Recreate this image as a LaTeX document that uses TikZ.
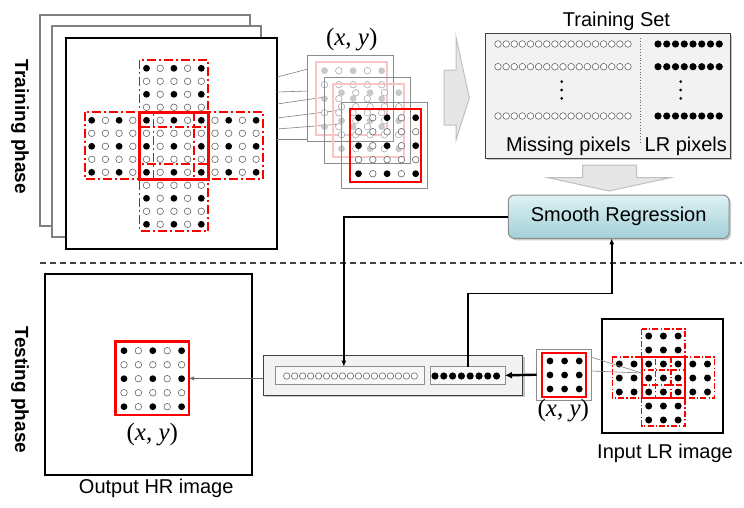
\documentclass[tikz,border=0pt]{standalone}
\usepackage{fontspec}
\setmainfont{Liberation Sans}
\newfontfamily\coordfont{Liberation Serif}
\usepackage{tikz}
\usetikzlibrary{arrows.meta,positioning,calc,shadows}
\definecolor{framegray}{HTML}{808080}
\definecolor{arrowfill}{HTML}{E6E6E6}
\definecolor{arrowline}{HTML}{BFBFBF}
\definecolor{setfill}{HTML}{F2F2F2}
\definecolor{slotfill}{HTML}{F8F8F8}
\definecolor{regtop}{HTML}{DDF1F4}
\definecolor{regbottom}{HTML}{A2D0D7}
\definecolor{fadedred}{HTML}{F8C6C6}
\definecolor{fadeddot}{HTML}{C9C9C9}
\tikzset{
  imageframe/.style={draw=black,line width=1.8pt,fill=white,inner sep=0pt,outer sep=0pt},
  backframe/.style={draw=framegray,line width=1.5pt,fill=white},
  patchframe/.style={draw=black!45,line width=0.7pt},
  redblock/.style={draw=red,line width=2.6pt,inner sep=0pt,outer sep=0pt},
  redsq/.style={draw=red,line width=2.4pt},
  fadedsq/.style={draw=fadedred,line width=2.2pt},
  redcross/.style={draw=red,line width=1.7pt,dash pattern=on 9pt off 3pt on 2pt off 3pt},
  smallcross/.style={draw=red,line width=1.3pt,dash pattern=on 6pt off 2.2pt on 1.3pt off 2.2pt},
  fullpix/.style={fill=black},
  emptypix/.style={draw=black!60,fill=white,line width=0.6pt},
  fadedfull/.style={fill=fadeddot},
  fadedempty/.style={draw=black!35,fill=white,line width=0.55pt},
  vecbox/.style={draw=black!75,line width=0.9pt,fill=setfill,inner sep=0pt,outer sep=0pt,
    drop shadow={shadow xshift=2pt,shadow yshift=-2pt,opacity=0.45}},
  slotbox/.style={draw=black!45,line width=0.7pt,fill=slotfill,inner sep=0pt,outer sep=0pt},
  regbox/.style={draw=black!45,line width=1pt,rounded corners=6pt,top color=regtop,bottom color=regbottom,
    inner sep=0pt,outer sep=0pt,drop shadow={shadow xshift=2pt,shadow yshift=-2pt,opacity=0.4}},
  blockarrow/.style={draw=arrowline,fill=arrowfill,line width=1pt},
  flowline/.style={-{Latex[length=6pt,width=5pt]},line width=1.6pt},
  thinarrow/.style={-{Latex[length=5pt,width=4pt]},draw=black!60,line width=0.6pt},
  thickarrow/.style={-{Latex[length=7pt,width=7pt]},line width=2.4pt},
  zoomline/.style={draw=black!50,line width=0.6pt},
  phaseline/.style={draw=black!75,line width=1.2pt,dash pattern=on 6pt off 4pt},
  labeltext/.style={font=\fontsize{20}{24}\selectfont,inner sep=0pt},
  phasetext/.style={font=\fontsize{19}{22}\selectfont\bfseries,inner sep=0pt},
  coordlabel/.style={font=\coordfont\fontsize{25}{28}\selectfont,inner sep=0pt}
}

\begin{document}
\begin{tikzpicture}[x=1pt,y=-1pt]
  \useasboundingbox (0,0) rectangle (744,507);

  % training images
  \draw[backframe] (40,15) rectangle (250,226);
  \draw[backframe] (52,26) rectangle (261,237);
  \draw[imageframe] (66,38) rectangle (277,249);
  \foreach \ya/\xb/\yb in {77/308/69,92/308/91,104/325/97,118/342/110,129/342/124,139/308/139}
    \draw[zoomline] (277,\ya) -- (\xb,\yb);
  \foreach \i in {0,...,12}{
    \foreach \j in {0,...,12}{
      \pgfmathtruncatemacro\incross{(\i>3)*(\i<9)+(\j>3)*(\j<9)}
      \pgfmathtruncatemacro\isfull{(mod(\i,2)==0)*(mod(\j,2)==0)}
      \ifnum\incross>0
        \ifnum\isfull=1
          \fill[fullpix] ({91.7+13.7*\i},{68.3+13*\j}) circle (3.4pt);
        \else
          \draw[emptypix] ({91.7+13.7*\i},{68.3+13*\j}) circle (3.3pt);
        \fi
      \fi
    }
  }
  \foreach \a/\b in {4/0,4/8,0/4,8/4}
    \draw[redcross] ({91.7+13.7*\a-7},{68.3+13*\b-8}) rectangle ++(68.8,67);
  \draw[redblock] (139.5,112.3) rectangle ++(68.8,67);

  % stacked patches
  \foreach \dx/\dy/\sqstyle/\fullstyle/\emptystyle in
    {0/0/fadedsq/fadedfull/fadedempty,17/22/fadedsq/fadedfull/fadedempty,34/47/redsq/fullpix/emptypix}{
    \draw[patchframe] ({307.7+\dx},{55+\dy}) rectangle ++(86,86);
    \draw[\sqstyle] ({315.7+\dx},{62+\dy}) rectangle ++(71.5,73);
    \foreach \i in {0,...,4}{
      \foreach \j in {0,...,4}{
        \pgfmathtruncatemacro\isfull{(mod(\i,2)==0)*(mod(\j,2)==0)}
        \ifnum\isfull=1
          \fill[\fullstyle] ({324.5+\dx+14.3*\i},{70.7+\dy+14*\j}) circle (3.4pt);
        \else
          \draw[\emptystyle] ({324.5+\dx+14.3*\i},{70.7+\dy+14*\j}) circle (3.3pt);
        \fi
      }
    }
  }
  \node[coordlabel,anchor=base] (patchcoord) at (351.7,45) {(\textit{x}, \textit{y})};

  \draw[blockarrow] (444,70) -- (456,70) -- (456,37) -- (469.3,98) -- (456,140) -- (456,125) -- (444,125) -- cycle;

  % training set
  \node[vecbox,minimum width=245,minimum height=125] (trainset) at (607.5,95.8) {};
  \node[labeltext,anchor=base] (settitle) at (616.5,26.7) {Training Set};
  \draw[dotted,line width=0.8pt,black!60] (640.7,38) -- (640.7,143);
  \foreach \yy in {44,66.7,116}{
    \foreach \k in {0,...,16}
      \draw[emptypix] ({498+8.125*\k},\yy) circle (3.3pt);
    \foreach \k in {0,...,7}
      \fill[fullpix] ({658+8.75*\k},\yy) circle (3.6pt);
  }
  \foreach \yy in {81.7,90,98.3}{
    \fill (561.7,\yy) circle (1.5pt);
    \fill (680.7,\yy) circle (1.5pt);
  }
  \node[labeltext,anchor=base] (misslabel) at (568.3,151.7) {Missing pixels};
  \node[labeltext,anchor=base] (lrlabel) at (685.8,151.7) {LR pixels};

  \draw[blockarrow] (582.7,165) -- (636.7,165) -- (636.7,177.7) -- (670,177.7) -- (609,191) -- (548.3,177.7) -- (582.7,177.7) -- cycle;

  \node[regbox,labeltext,minimum width=220.7,minimum height=43.3] (sreg) at (618.7,216.7) {Smooth Regression};

  \draw[phaseline] (40,263) -- (742,263);
  \node[phasetext,rotate=-90] (trainphase) at (20,127) {Training phase};
  \node[phasetext,rotate=-90] (testphase) at (20,390) {Testing phase};

  % testing vector
  \node[vecbox,minimum width=259.4,minimum height=40] (testbar) at (393,375) {};
  \node[slotbox,minimum width=148.3,minimum height=17.3] (missbox) at (349.85,375.35) {};
  \node[slotbox,minimum width=74.3,minimum height=17.3,right=6.7pt of missbox] (lrbox) {};
  \foreach \k in {0,...,16}
    \draw[emptypix] ({286.7+7.98*\k},376) circle (3.2pt);
  \foreach \k in {0,...,7}
    \fill[fullpix] ({435+8.8*\k},376) circle (3.6pt);

  \draw[flowline] (sreg.west) -| ([xshift=-6pt]missbox.north);
  \coordinate (joinpt) at (611.7,293.3);
  \draw[flowline] (lrbox.north) |- (joinpt) -- (joinpt |- sreg.south);

  % output image
  \node[imageframe,minimum width=206.7,minimum height=201] (hrimage) at (148.35,374.5) {};
  \node[redblock,minimum width=73.3,minimum height=73.3] (outpatch) at (152.35,378.35) {};
  \foreach \i in {0,...,4}{
    \foreach \j in {0,...,4}{
      \pgfmathtruncatemacro\isfull{(mod(\i,2)==0)*(mod(\j,2)==0)}
      \ifnum\isfull=1
        \fill[fullpix] ({124+14.4*\i},{350.7+14*\j}) circle (3.4pt);
      \else
        \draw[emptypix] ({124+14.4*\i},{350.7+14*\j}) circle (3.3pt);
      \fi
    }
  }
  \node[coordlabel,anchor=base] (hrcoord) at (152.3,440) {(\textit{x}, \textit{y})};
  \node[labeltext,anchor=base] (hrlabel) at (156.2,493.3) {Output HR image};
  \draw[thinarrow] (testbar.west |- outpatch.east) -- (outpatch.east);

  % input image
  \node[imageframe,minimum width=121.6,minimum height=114.3] (lrimage) at (662.5,376.2) {};
  \foreach \i in {0,...,6}{
    \foreach \j in {0,...,6}{
      \pgfmathtruncatemacro\incross{(\i>1)*(\i<5)+(\j>1)*(\j<5)}
      \ifnum\incross>0
        \fill[fullpix] ({619.3+14.7*\i},{336+14*\j}) circle (3.5pt);
      \fi
    }
  }
  \foreach \a/\b in {2/0,2/4,0/2,4/2}
    \draw[smallcross] ({619.3+14.7*\a-7},{336+14*\b-7}) rectangle ++(43.4,41);
  \draw[redblock,line width=1.8pt] (641.7,357) rectangle ++(43.4,41);
  \node[labeltext,anchor=base] (lrimglabel) at (665,458.3) {Input LR image};

  \node[draw=black!45,line width=0.8pt,fill=white,minimum width=55,minimum height=50.7,
    inner sep=0pt,outer sep=0pt] (inpatch) at (564.2,374.7) {};
  \coordinate (lrmid) at (641.7,373);
  \draw[zoomline] ([yshift=-8pt]inpatch.north east) -- (lrmid);
  \draw[zoomline] ([yshift=3.7pt]inpatch.east) -- (lrmid);
  \draw[redsq,line width=2pt] (541.7,352.7) rectangle (585.7,396.7);
  \foreach \i in {0,...,2}{
    \foreach \j in {0,...,2}{
      \fill[fullpix] ({550+14.6*\i},{361+14*\j}) circle (3.4pt);
    }
  }
  \node[coordlabel,anchor=base] (lrcoord) at (563.3,416.7) {(\textit{x}, \textit{y})};
  \draw[thickarrow] (inpatch.west) -- (lrbox.east);
\end{tikzpicture}
\end{document}
